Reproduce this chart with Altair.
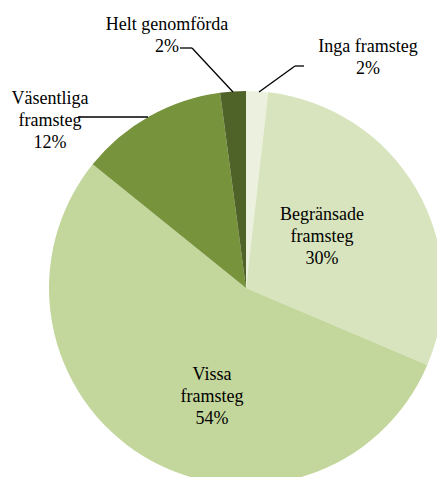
import altair as alt
import pandas as pd

# ---- data ----
categories = ["Inga framsteg", "Begränsade framsteg", "Vissa framsteg",
              "Väsentliga framsteg", "Helt genomförda"]
shares = [1.8, 29.6, 54.4, 12.1, 2.1]
pct_labels = ["2%", "30%", "54%", "12%", "2%"]
label_text = ["Inga framsteg\n2%", "Begränsade\nframsteg\n30%", "Vissa\nframsteg\n54%",
              "Väsentliga\nframsteg\n12%", "Helt genomförda\n2%"]
colors = ["#EBF1DE", "#D7E4BD", "#C3D69B", "#77933C", "#4F6228"]

# ---- layout (chart pixel coordinates) ----
W, H = 429, 469
CX, CY, R = 238, 280, 197
label_x = [360, 314, 204, 42, 159]
label_y = [39, 207, 367, 91, 17]
seg_x = [251, 287, 70, 172, 184]
seg_y = [84, 58, 109, 40, 40]
seg_x2 = [287, 296, 140, 184, 225]
seg_y2 = [58, 58, 109, 40, 84]

pie_df = pd.DataFrame({"cat": categories, "share": shares,
                       "order": list(range(len(categories)))})
lab_df = pd.DataFrame({"cat": categories, "txt": label_text,
                       "px": label_x, "py": label_y})
seg_df = pd.DataFrame({"x": seg_x, "y": seg_y, "x2": seg_x2, "y2": seg_y2})

xs = alt.Scale(domain=[0, W], range=[0, W], nice=False, zero=False)
ys = alt.Scale(domain=[0, H], range=[0, H], nice=False, zero=False)

pie = alt.Chart(pie_df).mark_arc(outerRadius=R, stroke=None).encode(
    theta=alt.Theta("share:Q", stack=True),
    order=alt.Order("order:O"),
    color=alt.Color("cat:N", scale=alt.Scale(domain=categories, range=colors), legend=None),
    x=alt.value(CX),
    y=alt.value(CY),
)

lines = alt.Chart(seg_df).mark_rule(color="#000000", strokeWidth=1.3).encode(
    x=alt.X("x:Q", scale=xs, axis=None),
    y=alt.Y("y:Q", scale=ys, axis=None),
    x2="x2:Q",
    y2="y2:Q",
)

labels = alt.Chart(lab_df).mark_text(
    font="Liberation Serif", fontSize=18, lineBreak="\n", lineHeight=22,
    align="center", baseline="middle", color="#000000",
).encode(
    x=alt.X("px:Q", scale=xs, axis=None),
    y=alt.Y("py:Q", scale=ys, axis=None),
    text="txt:N",
)

chart = alt.layer(pie, lines, labels).properties(
    width=W, height=H, padding=0, autosize=alt.AutoSizeParams(type="none")
).configure_view(stroke=None)

chart.save("out.html", embed_options={"renderer": "svg", "actions": False})
